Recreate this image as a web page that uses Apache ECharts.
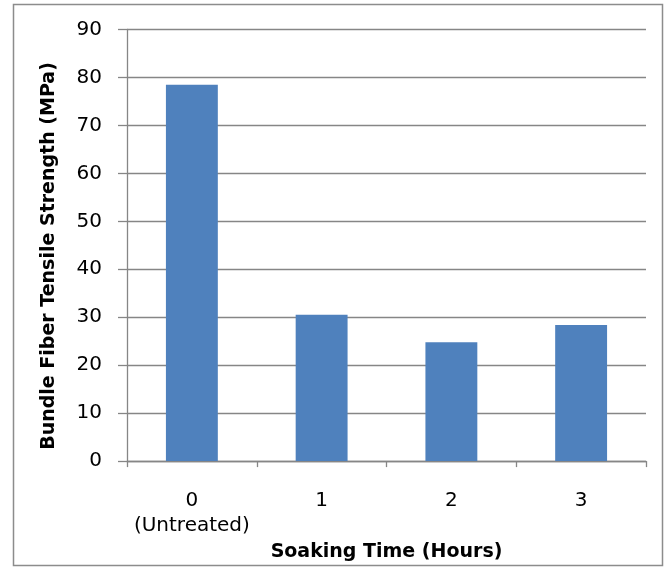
<!DOCTYPE html>
<html>
<head>
<meta charset="utf-8">
<script src="https://cdn.jsdelivr.net/npm/echarts@6/dist/echarts.min.js"></script>
<style>
  html, body { margin: 0; padding: 0; background: #fff; }
  #chart { width: 667px; height: 567px; }
</style>
</head>
<body>
<div id="chart"></div>
<script>
// Soaking time categories (hours)
const categories = ['0\n(Untreated)', '1', '2', '3'];
// Bundle fiber tensile strength, MPa
const strength = [78.5, 30.5, 24.8, 28.4];
// Value axis ticks
const yMin = 0;
const yMax = 90;
const yStep = 10;

const FONT = '"DejaVu Sans", sans-serif';
const GREY = '#868686';

const chart = echarts.init(document.getElementById('chart'), null, { renderer: 'canvas' });

chart.setOption({
  animation: false,
  backgroundColor: '#ffffff',
  graphic: [
    {
      type: 'rect',
      shape: { x: 13.5, y: 4.5, width: 649, height: 561 },
      style: { fill: 'none', stroke: '#8c8c8c', lineWidth: 1.5 },
      silent: true
    },
    {
      // value-axis title, rotated
      type: 'text',
      x: 49,
      y: 256,
      rotation: Math.PI / 2,
      style: {
        text: 'Bundle Fiber Tensile Strength (MPa)',
        fontFamily: FONT,
        fontSize: 19,
        fontWeight: 'bold',
        fill: '#000',
        align: 'center',
        verticalAlign: 'middle'
      },
      silent: true
    }
  ],
  grid: { left: 127, right: 21, top: 29.5, bottom: 104, containLabel: false },
  xAxis: {
    type: 'category',
    data: categories,
    name: 'Soaking Time (Hours)',
    nameLocation: 'middle',
    nameGap: 67,
    nameTextStyle: { fontFamily: FONT, fontSize: 19, fontWeight: 'bold', color: '#000' },
    axisLine: { show: true, lineStyle: { color: GREY, width: 1.3 } },
    axisTick: { show: true, alignWithLabel: false, length: 6, lineStyle: { color: GREY, width: 1.3 } },
    axisLabel: { interval: 0, fontFamily: FONT, fontSize: 20, color: '#000', margin: 27, lineHeight: 25 }
  },
  yAxis: {
    type: 'value',
    min: yMin,
    max: yMax,
    interval: yStep,
    axisLine: { show: true, lineStyle: { color: GREY, width: 1.3 } },
    axisTick: { show: true, length: 9, lineStyle: { color: GREY, width: 1.3 } },
    axisLabel: { fontFamily: FONT, fontSize: 20, color: '#000', margin: 25 },
    splitLine: { show: true, lineStyle: { color: GREY, width: 1.3 } }
  },
  series: [{
    type: 'bar',
    data: strength,
    barWidth: '40%',
    itemStyle: { color: '#4F81BD' }
  }]
});
</script>
</body>
</html>
